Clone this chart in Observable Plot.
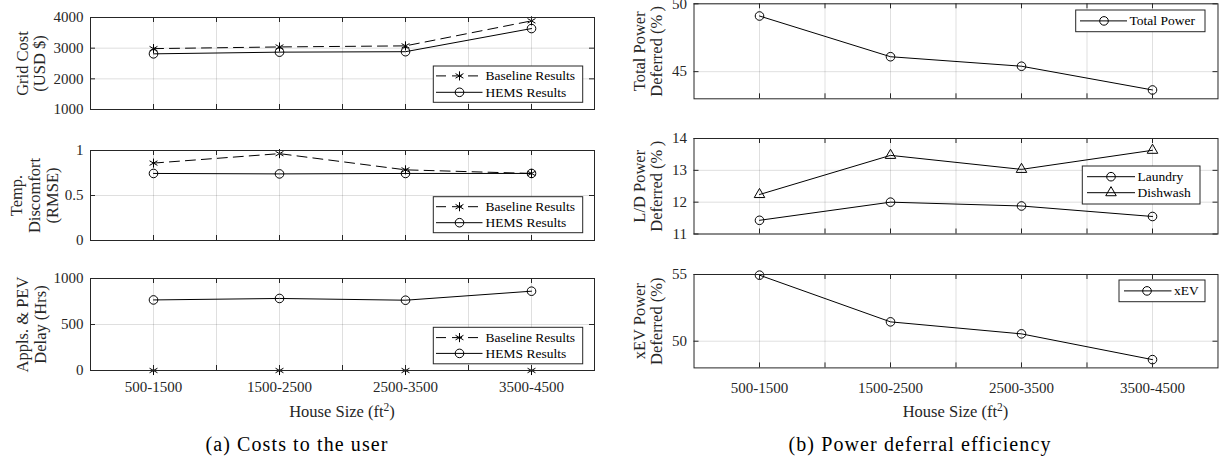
<!DOCTYPE html>
<html>
<head>
<meta charset="utf-8">
<script src="https://cdn.jsdelivr.net/npm/d3@7"></script>
<script src="https://cdn.jsdelivr.net/npm/@observablehq/plot@0.6"></script>
<style>
  body { margin: 0; background: #fff; }
  #root { position: relative; width: 1225px; height: 458px; overflow: hidden; background: #fff; }
  #root svg { position: absolute; background: transparent; overflow: visible; }
</style>
</head>
<body>
<div id="root"></div>
<script>
// ---------------- data ----------------
const houseSizes = ["500-1500", "1500-2500", "2500-3500", "3500-4500"];
const gridCostBaseline = [2985, 3040, 3075, 3890];
const gridCostHems = [2815, 2870, 2885, 3640];
const discomfortBaseline = [0.86, 0.965, 0.785, 0.745];
const discomfortHems = [0.745, 0.74, 0.745, 0.745];
const delayBaseline = [0, 0, 0, 0];
const delayHems = [767, 783, 764, 862];
const totalPowerDeferred = [49.1, 46.1, 45.4, 43.65];
const laundryDeferred = [11.43, 12.0, 11.88, 11.55];
const dishwashDeferred = [12.24, 13.47, 13.03, 13.63];
const xevDeferred = [54.95, 51.45, 50.55, 48.62];

const gridCostTicks = [1000, 2000, 3000, 4000];
const discomfortTicks = [0, 0.5, 1];
const delayTicks = [0, 500, 1000];
const totalTicks = [45, 50];
const ldTicks = [11, 12, 13, 14];
const xevTicks = [50, 55];

const rows = houseSizes.map((s, i) => ({
  pos: i + 1, size: s,
  gridBase: gridCostBaseline[i], gridHems: gridCostHems[i],
  discBase: discomfortBaseline[i], discHems: discomfortHems[i],
  delayBase: delayBaseline[i], delayHems: delayHems[i],
  total: totalPowerDeferred[i], laundry: laundryDeferred[i],
  dish: dishwashDeferred[i], xev: xevDeferred[i]
}));
const xTickPos = [1, 1.5, 2, 2.5, 3, 3.5, 4];
const xCatPos = [1, 2, 3, 4];

// ---------------- style ----------------
const AX = "#262626";
const FONT = '"Liberation Serif","Times New Roman",Times,serif';
const DASH = "10,6";
const root = document.getElementById("root");

function seriesMarks(field, symbol, dashed) {
  return [
    Plot.line(rows, {x: "pos", y: field, stroke: "#000", strokeWidth: 1, strokeDasharray: dashed ? DASH : null}),
    Plot.dot(rows, {x: "pos", y: field, symbol, r: symbol === "triangle" ? 3.9 : 4.3, stroke: "#000", fill: "none", strokeWidth: 1})
  ];
}

function panel(o) {
  const innerH = o.bottom - o.top;
  const innerW = o.width - o.ml - o.mr;
  const TL = 5;
  const marks = [
    Plot.gridX(xTickPos, {stroke: AX, strokeOpacity: 0.15, strokeWidth: 1}),
    Plot.gridY(o.yTicks, {stroke: AX, strokeOpacity: 0.15, strokeWidth: 1}),
    ...o.marks,
    Plot.ruleX(xTickPos, {insetBottom: innerH - TL, stroke: AX}),
    Plot.ruleX(xTickPos, {insetTop: innerH - TL, stroke: AX}),
    Plot.ruleY(o.yTicks, {insetRight: innerW - TL, stroke: AX}),
    Plot.ruleY(o.yTicks, {insetLeft: innerW - TL, stroke: AX}),
    Plot.frame({stroke: AX, strokeWidth: 1}),
    Plot.axisY(o.yTicks, {tickSize: 0, tickPadding: 7, tickFormat: d => String(d), fontSize: 15, fill: AX, label: null}),
    Plot.text([o.ylabel], {text: d => d, frameAnchor: "left", textAnchor: "middle", lineAnchor: "middle", dx: o.ydx, rotate: -90, fontSize: 16.5, lineHeight: o.lh || 1.06, fill: AX})
  ];
  if (o.xLabels) {
    marks.push(Plot.axisX(xCatPos, {tickSize: 0, tickPadding: o.xPad, tickFormat: d => houseSizes[d - 1], fontSize: 15, fill: AX, label: null}));
  }
  const chart = Plot.plot({
    width: o.width,
    height: innerH + o.mt + o.mb,
    marginLeft: o.ml, marginRight: o.mr, marginTop: o.mt, marginBottom: o.mb,
    x: o.xLabels ? {type: "linear", domain: [0.5, 4.5], label: null} : {type: "linear", domain: [0.5, 4.5], axis: null, label: null},
    y: {type: "linear", domain: o.yDomain, label: null},
    style: {fontFamily: FONT, fontSize: "15px", color: AX, background: "transparent", overflow: "visible"},
    marks
  });
  chart.style.left = o.left + "px";
  chart.style.top = (o.top - o.mt) + "px";
  root.appendChild(chart);
}

// Left column
const L = {left: 0, width: 600, ml: 90, mr: 6};
panel({...L, top: 17, bottom: 109, mt: 12, mb: 12, yDomain: [1000, 4000], yTicks: gridCostTicks,
  ylabel: "Grid Cost\n(USD $)", ydx: -59.6,
  marks: [...seriesMarks("gridBase", "asterisk", true), ...seriesMarks("gridHems", "circle", false)]});
panel({...L, top: 149.5, bottom: 239.5, mt: 12, mb: 12, yDomain: [0, 1], yTicks: discomfortTicks,
  ylabel: "Temp.\nDiscomfort\n(RMSE)", ydx: -56.5, lh: 1.1,
  marks: [...seriesMarks("discBase", "asterisk", true), ...seriesMarks("discHems", "circle", false)]});
panel({...L, top: 278.3, bottom: 370.3, mt: 12, mb: 40, yDomain: [0, 1000], yTicks: delayTicks,
  ylabel: "Appls. & PEV\nDelay (Hrs)", ydx: -59.2, xLabels: true, xPad: 11,
  marks: [...seriesMarks("delayBase", "asterisk", true), ...seriesMarks("delayHems", "circle", false)]});

// Right column
const R = {left: 612, width: 613, ml: 81.5, mr: 7.5};
panel({...R, top: 3.3, bottom: 98.3, mt: 3.3, mb: 12, yDomain: [43, 50], yTicks: totalTicks,
  ylabel: "Total Power\nDeferred (%\u2009)", ydx: -46.2,
  marks: [...seriesMarks("total", "circle", false)]});
panel({...R, top: 138.3, bottom: 233.8, mt: 12, mb: 12, yDomain: [11, 14], yTicks: ldTicks,
  ylabel: "L/D Power\nDeferred (%\u2009)", ydx: -46.2,
  marks: [...seriesMarks("laundry", "circle", false), ...seriesMarks("dish", "triangle", false)]});
panel({...R, top: 274.3, bottom: 367.7, mt: 12, mb: 40, yDomain: [48, 55], yTicks: xevTicks,
  ylabel: "xEV Power\nDeferred (%)", ydx: -46.2, xLabels: true, xPad: 14,
  marks: [...seriesMarks("xev", "circle", false)]});

// ---------------- overlay: legends, axis titles, captions ----------------
const ov = d3.select(root).append("svg")
  .attr("width", 1225).attr("height", 458)
  .style("left", "0px").style("top", "0px")
  .attr("font-family", FONT).attr("fill", AX);

const symType = {asterisk: d3.symbolAsterisk, circle: d3.symbolCircle, triangle: d3.symbolTriangle};
function legend(b) {
  const g = ov.append("g");
  g.append("rect").attr("x", b.x0).attr("y", b.y0).attr("width", b.x1 - b.x0).attr("height", b.y1 - b.y0)
    .attr("fill", "#fff").attr("stroke", AX).attr("stroke-width", 1);
  b.items.forEach(it => {
    g.append("line").attr("x1", b.lx0).attr("x2", b.lx1).attr("y1", it.y).attr("y2", it.y)
      .attr("stroke", "#000").attr("stroke-width", 1).attr("stroke-dasharray", it.dashed ? DASH : null);
    const r = it.symbol === "triangle" ? 3.9 : 4.3;
    g.append("path").attr("d", d3.symbol(symType[it.symbol], Math.PI * r * r)())
      .attr("transform", `translate(${b.mx},${it.y})`)
      .attr("fill", "none").attr("stroke", "#000").attr("stroke-width", 1);
    g.append("text").attr("x", b.tx).attr("y", it.y).attr("dominant-baseline", "central")
      .attr("font-size", 13.5).attr("fill", "#000").text(it.label);
  });
}
const baseItems = (y1, y2) => [
  {label: "Baseline Results", symbol: "asterisk", dashed: true, y: y1},
  {label: "HEMS Results", symbol: "circle", dashed: false, y: y2}
];
legend({x0: 433.3, x1: 582.7, y0: 66, y1: 102.3, lx0: 436, lx1: 482.5, mx: 459.5, tx: 485.5, items: baseItems(75.9, 92.3)});
legend({x0: 433.3, x1: 582.7, y0: 196.7, y1: 232.7, lx0: 436, lx1: 482.5, mx: 459.5, tx: 485.5, items: baseItems(206.7, 222.7)});
legend({x0: 433.3, x1: 582.7, y0: 327.3, y1: 363.8, lx0: 436, lx1: 482.5, mx: 459.5, tx: 485.5, items: baseItems(337.6, 353.4)});
legend({x0: 1075.7, x1: 1205, y0: 10, y1: 31.7, lx0: 1080, lx1: 1127, mx: 1104, tx: 1129.5,
  items: [{label: "Total Power", symbol: "circle", y: 20.9}]});
legend({x0: 1082.3, x1: 1200, y0: 166, y1: 204, lx0: 1087, lx1: 1135, mx: 1111, tx: 1137.5,
  items: [{label: "Laundry", symbol: "circle", y: 176.7}, {label: "Dishwash", symbol: "triangle", y: 192.7}]});
legend({x0: 1119, x1: 1205, y0: 280, y1: 301.7, lx0: 1124, lx1: 1171.5, mx: 1147, tx: 1174,
  items: [{label: "xEV", symbol: "circle", y: 290.9}]});

function xTitle(cx) {
  const t = ov.append("text").attr("x", cx).attr("y", 417).attr("text-anchor", "middle").attr("font-size", 16.5);
  t.append("tspan").text("House Size (ft");
  t.append("tspan").attr("dy", -6.5).attr("font-size", 11.5).text("2");
  t.append("tspan").attr("dy", 6.5).text(")");
}
xTitle(342);
xTitle(955.5);

function caption(cx, str) {
  ov.append("text").attr("x", cx).attr("y", 451).attr("text-anchor", "middle")
    .attr("font-size", 20).attr("letter-spacing", 1.1).attr("fill", "#000").text(str);
}
caption(297, "(a) Costs to the user");
caption(920, "(b) Power deferral efficiency");
</script>
</body>
</html>
